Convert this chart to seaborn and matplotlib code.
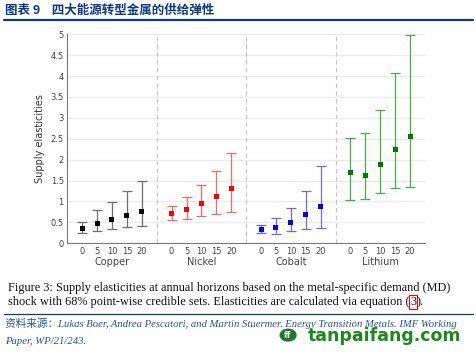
import numpy as np
import pandas as pd
import matplotlib
matplotlib.use("Agg")
import matplotlib.pyplot as plt
import matplotlib.transforms as mtransforms
from matplotlib.patches import Circle
import seaborn as sns

# --- data ---
horizons = [0, 5, 10, 15, 20]
metals = ["Copper", "Nickel", "Cobalt", "Lithium"]

copper_mid = [0.35, 0.48, 0.58, 0.66, 0.76]
copper_lo = [0.25, 0.30, 0.35, 0.38, 0.41]
copper_hi = [0.51, 0.79, 0.99, 1.24, 1.50]

nickel_mid = [0.72, 0.80, 0.95, 1.12, 1.31]
nickel_lo = [0.56, 0.57, 0.66, 0.71, 0.75]
nickel_hi = [0.89, 1.11, 1.39, 1.74, 2.17]

cobalt_mid = [0.33, 0.37, 0.50, 0.68, 0.87]
cobalt_lo = [0.24, 0.22, 0.29, 0.34, 0.36]
cobalt_hi = [0.43, 0.60, 0.84, 1.26, 1.85]

lithium_mid = [1.70, 1.63, 1.89, 2.25, 2.56]
lithium_lo = [1.04, 1.06, 1.20, 1.32, 1.34]
lithium_hi = [2.53, 2.63, 3.18, 4.08, 4.97]

mids = [copper_mid, nickel_mid, cobalt_mid, lithium_mid]
los = [copper_lo, nickel_lo, cobalt_lo, lithium_lo]
his = [copper_hi, nickel_hi, cobalt_hi, lithium_hi]
marker_colors = ["#000000", "#ff0000", "#0000ff", "#007a00"]
bar_colors = ["#6e6e6e", "#f06a6a", "#6a6af5", "#4aaa4a"]

rows = []
for g, m in enumerate(metals):
    for j, h in enumerate(horizons):
        rows.append({"metal": m, "horizon": h, "pos": g * 6 + j + 1,
                     "mid": mids[g][j], "lo": los[g][j], "hi": his[g][j]})
df = pd.DataFrame(rows)

sns.set_style("white")
plt.rcParams["font.family"] = ["DejaVu Sans", "Noto Sans CJK SC"]

fig = plt.figure(figsize=(4.77, 3.55), dpi=100)
ax = fig.add_axes([0.141, 0.3146, 0.750, 0.589])

# grid lines
for yv in np.arange(0.5, 5.01, 0.5):
    ax.axhline(yv, color="#ebebeb", lw=0.9, zorder=0)
for xv in [6, 12, 18]:
    ax.axvline(xv, color="#c4c4c4", lw=0.8, ls=(0, (4, 3)), zorder=0)

# error bars
for g, m in enumerate(metals):
    sub = df[df["metal"] == m]
    ax.errorbar(sub["pos"], sub["mid"],
                yerr=[sub["mid"] - sub["lo"], sub["hi"] - sub["mid"]],
                fmt="none", ecolor=bar_colors[g], elinewidth=0.9,
                capsize=3.3, capthick=0.9, zorder=2)

sns.scatterplot(data=df, x="pos", y="mid", hue="metal", palette=marker_colors,
                marker="s", s=13, edgecolor="none", legend=False, ax=ax, zorder=3)

ax.set_xlim(0, 24)
ax.set_ylim(0, 5)
ax.set_yticks(np.arange(0, 5.01, 0.5))
ax.set_yticklabels(["0", "0.5", "1", "1.5", "2", "2.5", "3", "3.5", "4", "4.5", "5"])
ax.set_xticks(df["pos"])
ax.set_xticklabels([str(h) for h in df["horizon"]])
ax.set_xticks([6, 12, 18], minor=True)
ax.tick_params(axis="x", which="both", length=3, width=0.7, color="#777777", direction="in",
               pad=3, labelsize=6, labelcolor="#444444")
ax.tick_params(axis="y", length=3, width=0.7, color="#777777", direction="in",
               labelsize=6, labelcolor="#444444", pad=2.5)
ax.set_xlabel("")
ax.set_ylabel("Supply elasticities", fontsize=7, color="#333333", labelpad=4)
for s in ["top", "right"]:
    ax.spines[s].set_visible(False)
for s in ["left", "bottom"]:
    ax.spines[s].set_color("#777777")
    ax.spines[s].set_linewidth(0.8)

trans = mtransforms.blended_transform_factory(ax.transData, ax.transAxes)
for g, m in enumerate(metals):
    ax.text(g * 6 + 3, -0.088, m, transform=trans, ha="center", va="center",
            fontsize=7, color="#444444")

# header
navy = "#0b3a82"
fig.text(0.0105, 0.972, "图表 9    四大能源转型金属的供给弹性", fontsize=9, fontweight="bold",
         color=navy, family=["Noto Sans CJK SC", "DejaVu Sans"], va="center", ha="left")
fig.add_artist(plt.Line2D([0.0084, 0.9916], [0.945, 0.945], color=navy, lw=1.6))

# caption
serif = ["Liberation Serif", "DejaVu Serif"]
cap_fs = 8.85
fig.text(0.0168, 0.189,
         "Figure 3: Supply elasticities at annual horizons based on the metal-specific demand (MD)",
         fontsize=cap_fs, family=serif, color="#111111", va="center")
t1 = fig.text(0.0168, 0.149,
              "shock with 68% point-wise credible sets. Elasticities are calculated via equation (",
              fontsize=cap_fs, family=serif, color="#111111", va="center")
fig.canvas.draw()
bb = t1.get_window_extent().transformed(fig.transFigure.inverted())
t2 = fig.text(bb.x1 + 0.001, 0.149, "3", fontsize=cap_fs, family=serif, color="#111111", va="center",
              bbox=dict(boxstyle="square,pad=0.05", fc="none", ec="#ff0000", lw=0.8))
fig.canvas.draw()
bb2 = t2.get_window_extent().transformed(fig.transFigure.inverted())
fig.text(bb2.x1 + 0.002, 0.149, ").", fontsize=cap_fs, family=serif, color="#111111", va="center")

fig.add_artist(plt.Line2D([0.0084, 0.9916], [0.1155, 0.1155], color=navy, lw=0.9))

src_font = ["Liberation Serif", "Noto Sans CJK SC"]
fig.text(0.0105, 0.090,
         "资料来源：Lukas Boer, Andrea Pescatori, and Martin Stuermer. Energy Transition Metals. IMF Working",
         fontsize=7.7, style="italic", family=src_font, color="#2451a6", va="center")
fig.text(0.0105, 0.038, "Paper, WP/21/243.", fontsize=7.7, style="italic", family=src_font,
         color="#2451a6", va="center")

# watermark
fig.add_artist(Circle((0.604, 0.056), 0.0165, transform=fig.transFigure, color="#1d7a2a"))
fig.text(0.604, 0.056, "ff", fontsize=6, fontweight="bold", color="white", ha="center", va="center")
fig.text(0.646, 0.054, "tanpaifang.com", fontsize=12.5, fontweight="bold", color="#1a8a1a",
         va="center", ha="left")

fig.savefig("out.png", dpi=100)
